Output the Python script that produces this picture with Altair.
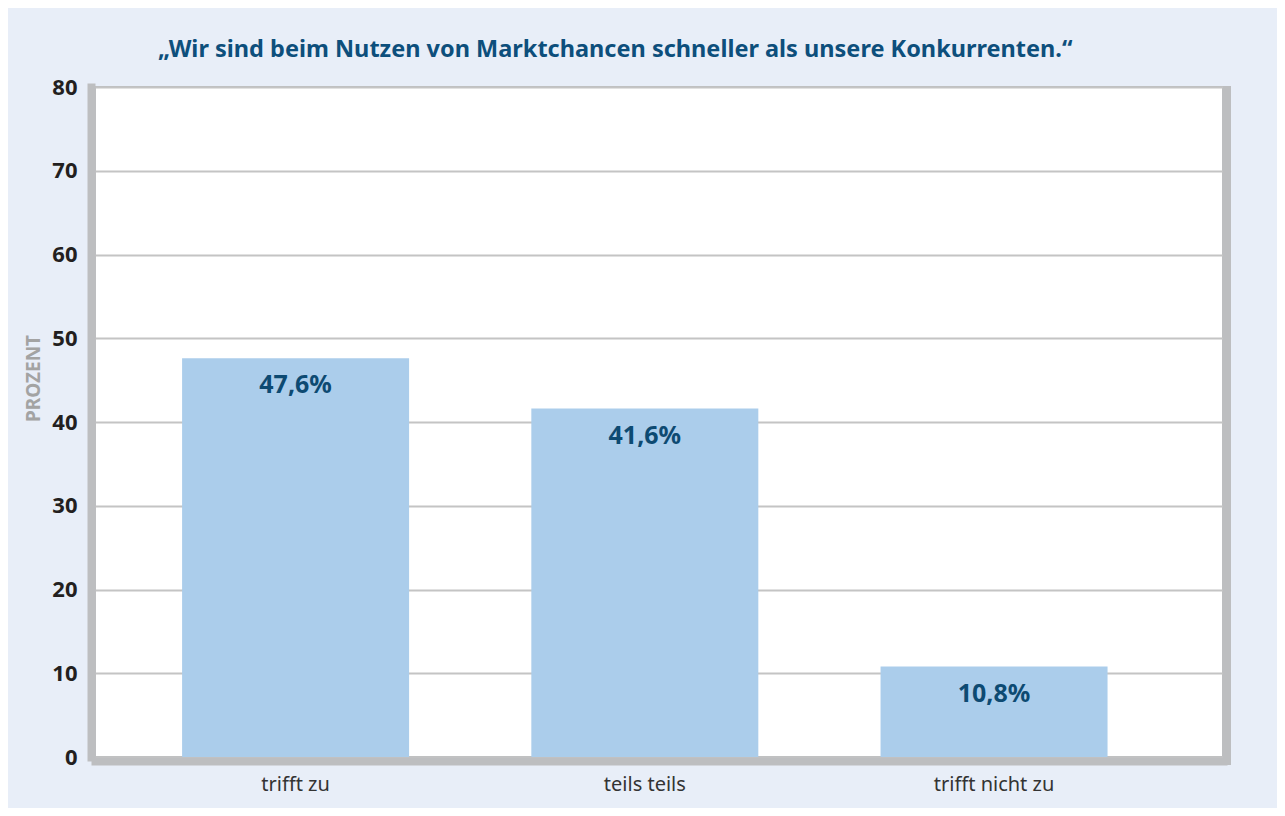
import altair as alt
import pandas as pd

categories = ["trifft zu", "teils teils", "trifft nicht zu"]
values = [47.6, 41.6, 10.8]
y_ticks = [0, 10, 20, 30, 40, 50, 60, 70, 80]
title_text = "\u201eWir sind beim Nutzen von Marktchancen schneller als unsere Konkurrenten.\u201c"

df = pd.DataFrame({
    "cat": categories,
    "val": values,
    "label": [f"{v:.1f}".replace(".", ",") + "%" for v in values],
})

W, H = 1128, 670
FONT = "Noto Sans"
GRAY = "#bdbec0"

x_enc = alt.X(
    "cat:N", sort=categories, title=None,
    scale=alt.Scale(paddingInner=0.35, paddingOuter=0.29, align=0.43),
    axis=alt.Axis(labelAngle=0, ticks=False, labelPadding=13, labelFontSize=20,
                  labelFont=FONT, labelColor="#333333", labelFontWeight="normal",
                  domainColor=GRAY, domainWidth=8, domainCap="square", offset=4,
                  grid=False),
)
y_enc = alt.Y(
    "val:Q", title="PROZENT",
    scale=alt.Scale(domain=[0, 80], nice=False, zero=True),
    axis=alt.Axis(values=y_ticks, ticks=False, labelPadding=14, labelFontSize=22,
                  labelFont=FONT, labelFontWeight="bold", labelColor="#231f20",
                  domainColor=GRAY, domainWidth=8, domainCap="square", offset=4,
                  grid=True, gridColor="#c4c4c4", gridWidth=2,
                  titleFont=FONT, titleFontSize=19, titleFontWeight="bold",
                  titleColor="#a3a3a3", titleAngle=-90, titleX=-58, titleY=291,
                  titleAlign="center", titleBaseline="middle"),
)

bars = alt.Chart(df).mark_bar(color="#abcdeb").encode(x=x_enc, y=y_enc)

labels = alt.Chart(df).mark_text(
    font=FONT, fontSize=25, fontWeight="bold", color="#0d4a72",
    baseline="middle", align="center", dy=27,
).encode(x=alt.X("cat:N", sort=categories), y=alt.Y("val:Q"), text="label:N")

right_border = alt.Chart(df).mark_rule(color=GRAY, strokeWidth=8).encode(
    x=alt.value(W + 4), y=alt.value(-1), y2=alt.value(H + 8)
)

chart = alt.layer(bars, labels, right_border).properties(
    width=W, height=H,
    title=alt.TitleParams(title_text, anchor="start", frame="group", dx=63, offset=15,
                          font=FONT, fontSize=23.5, fontWeight="bold", color="#0d4f7c"),
    autosize=alt.AutoSizeParams(type="none"),
    padding={"left": 87, "top": 79, "right": 54, "bottom": 51},
    background="#e8eef8",
).configure_view(stroke=GRAY, strokeWidth=2, fill="white")

chart.save("out.html", embed_options={"renderer": "svg", "actions": False})
